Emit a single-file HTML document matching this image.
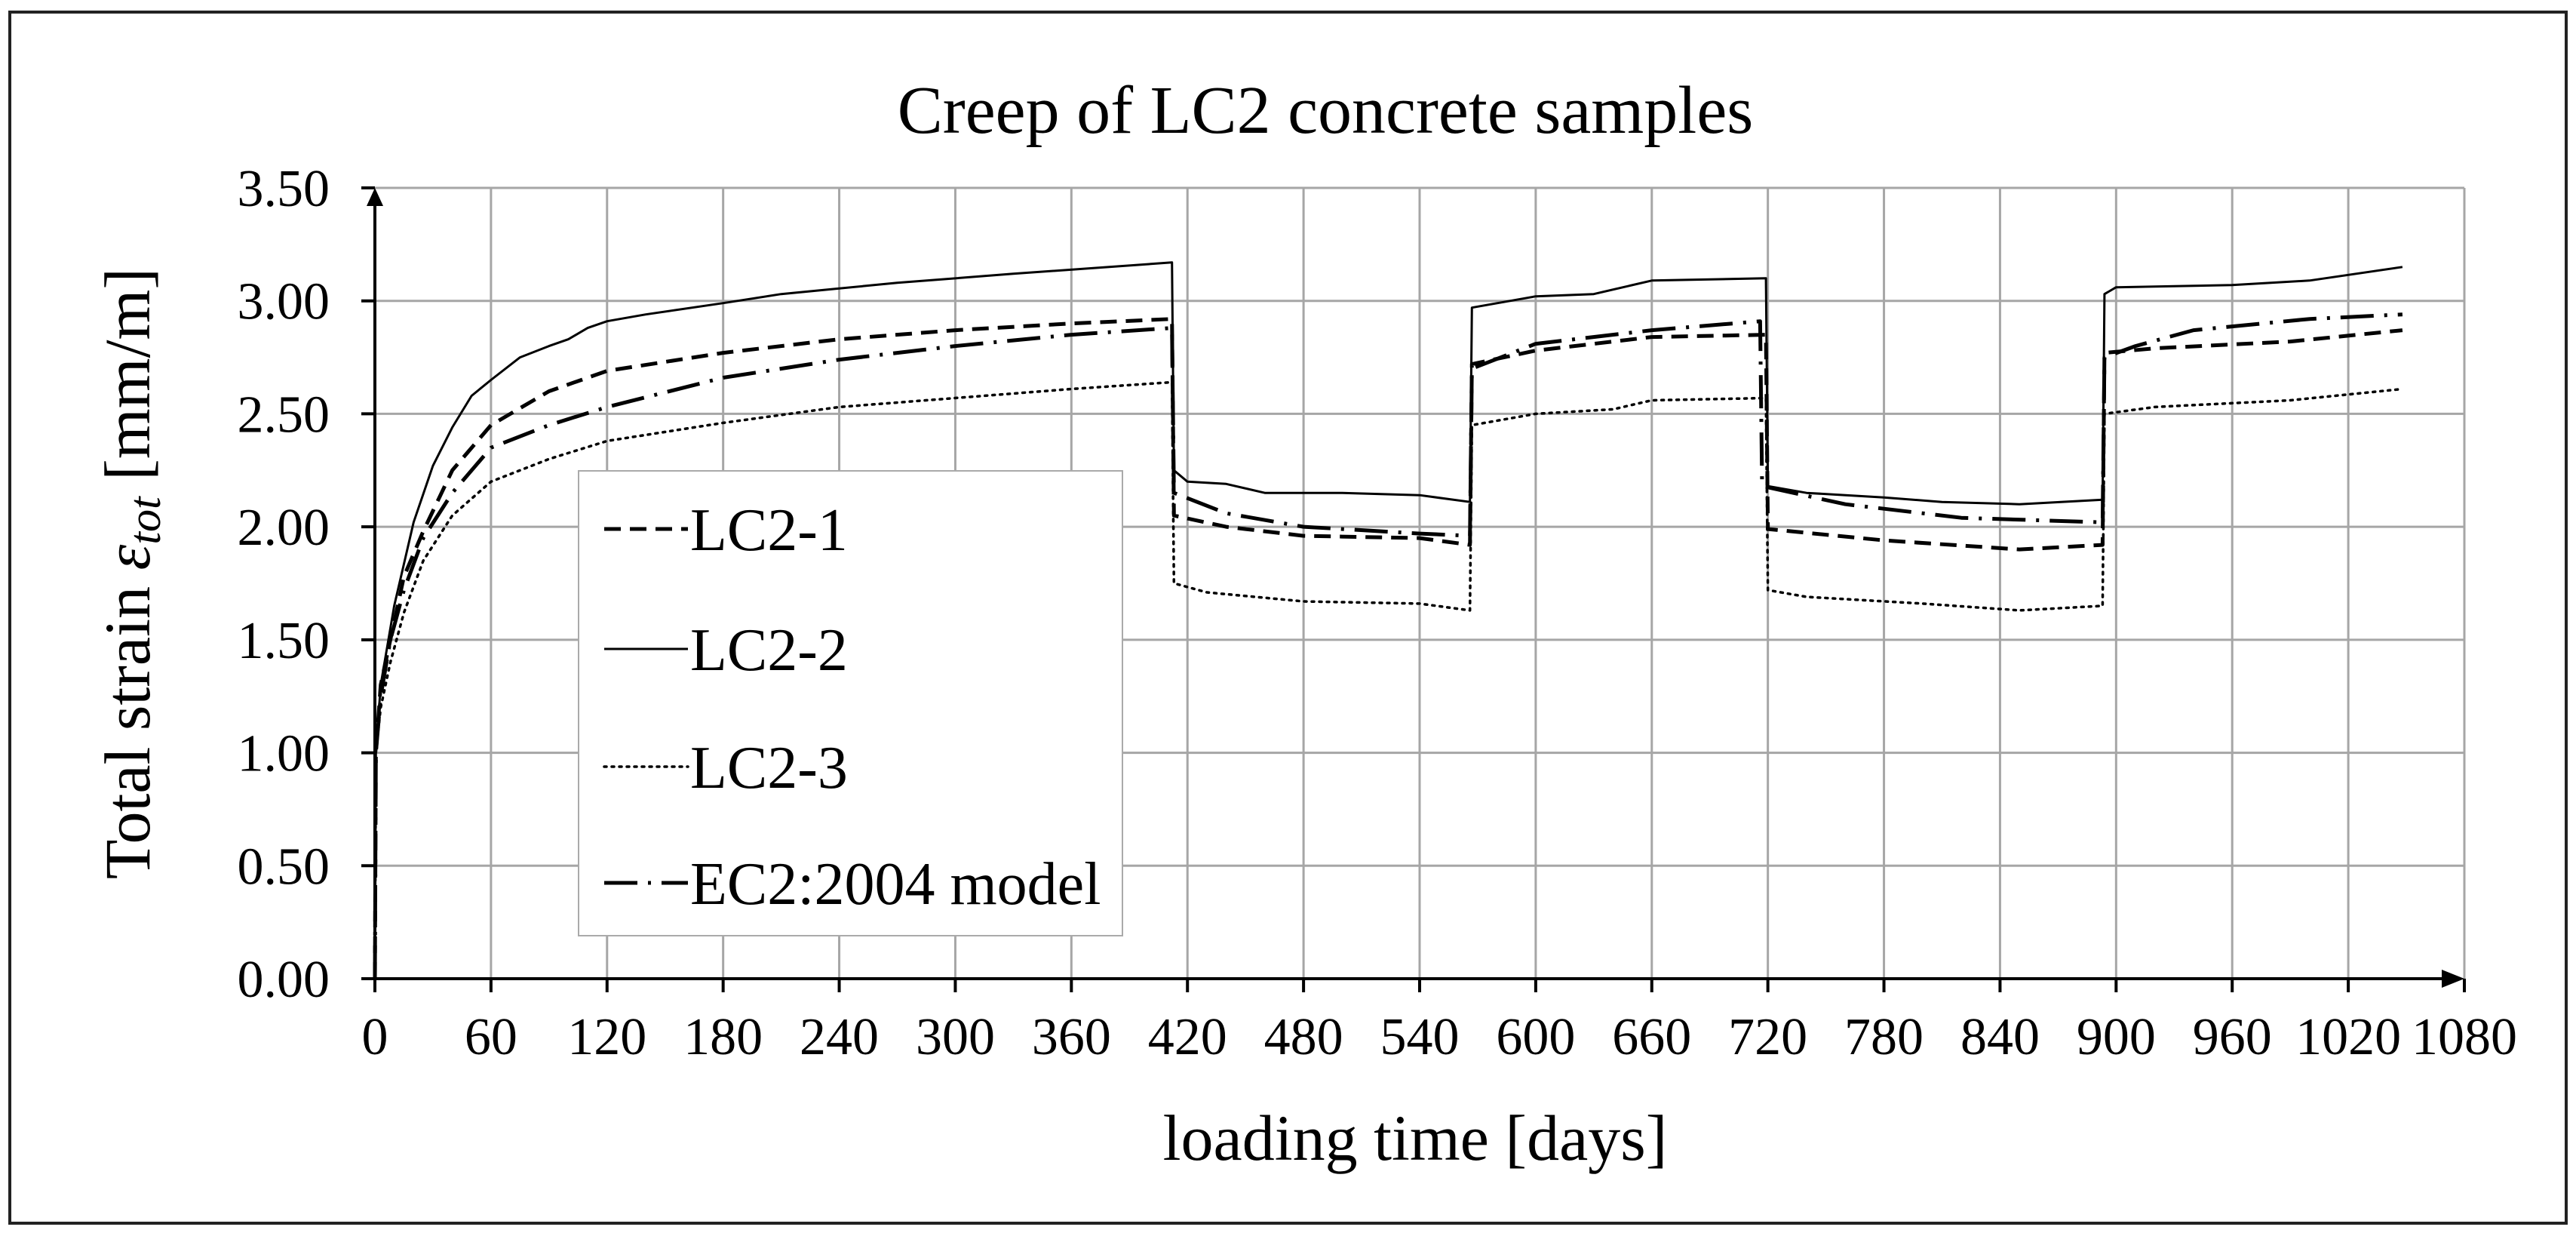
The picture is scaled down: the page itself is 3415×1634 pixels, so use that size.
<!DOCTYPE html>
<html><head><meta charset="utf-8">
<style>
html,body{margin:0;padding:0;background:#fff;}
svg{display:block;}
text{font-family:"Liberation Serif","Times New Roman",serif;fill:#000;}
</style></head>
<body>
<svg id="chart" width="3415" height="1634" viewBox="0 0 3415 1634" xmlns="http://www.w3.org/2000/svg">
<rect x="13" y="16" width="3389" height="1605" fill="#fff" stroke="#222" stroke-width="4"/>
<text x="1757" y="176" font-size="90" text-anchor="middle">Creep of LC2 concrete samples</text>
<g id="grid"></g>
<g id="axes"></g>
<g id="series"></g>
<text x="1876" y="1537" font-size="86" text-anchor="middle">loading time [days]</text>
<text transform="translate(198,760) rotate(-90)" font-size="86" text-anchor="middle">Total strain <tspan font-style="italic">ε</tspan><tspan font-style="italic" font-size="60" dy="14">tot</tspan><tspan dy="-14"> [mm/m]</tspan></text>
<g>
<rect x="767" y="624" width="721" height="616" fill="#fff" stroke="#aaa" stroke-width="2"/>
<g><line x1="801" y1="701" x2="912" y2="701" stroke="#000" stroke-width="5" stroke-dasharray="22,12"/><text x="915" y="729" font-size="80">LC2-1</text></g>
<g><line x1="801" y1="860" x2="912" y2="860" stroke="#000" stroke-width="3"/><text x="915" y="888" font-size="80">LC2-2</text></g>
<g><line x1="801" y1="1016" x2="912" y2="1016" stroke="#000" stroke-width="3.5" stroke-dasharray="3,7" stroke-linecap="round"/><text x="915" y="1044" font-size="80">LC2-3</text></g>
<g><line x1="801" y1="1170" x2="912" y2="1170" stroke="#000" stroke-width="5" stroke-dasharray="44,14,4,14"/><text x="915" y="1198" font-size="80">EC2:2004 model</text></g>
</g>
</svg>
<script>
const xTicks = [0,60,120,180,240,300,360,420,480,540,600,660,720,780,840,900,960,1020,1080];
const yTicks = [0,0.5,1,1.5,2,2.5,3,3.5];
const yTickLabels = ["0.00","0.50","1.00","1.50","2.00","2.50","3.00","3.50"];
const lc21Days = [0,0.5,3,8,15,25,40,60,90,120,180,240,300,360,412,413,440,480,540,566,567,600,660,719,720,780,850,893,894,920,990,1048];
const lc21Vals = [0,1.0,1.3,1.5,1.78,1.98,2.25,2.45,2.6,2.69,2.77,2.83,2.87,2.9,2.92,2.05,2.0,1.96,1.95,1.92,2.72,2.78,2.84,2.85,1.99,1.94,1.9,1.92,2.77,2.79,2.82,2.87];
const lc22Days = [0,0.5,3,10,20,30,40,50,60,75,90,100,110,120,140,180,210,270,330,412,413,420,440,460,500,540,566,567,600,630,660,719,720,740,780,810,850,893,894,900,960,1000,1048];
const lc22Vals = [0,1.0,1.3,1.65,2.02,2.27,2.44,2.58,2.65,2.75,2.8,2.83,2.88,2.91,2.94,2.99,3.03,3.08,3.12,3.17,2.25,2.2,2.19,2.15,2.15,2.14,2.11,2.97,3.02,3.03,3.09,3.1,2.18,2.15,2.13,2.11,2.1,2.12,3.03,3.06,3.07,3.09,3.15];
const lc23Days = [0,0.5,3,8,15,25,40,60,90,120,180,240,300,360,412,413,430,480,540,566,567,600,640,660,719,720,740,800,850,893,894,920,990,1048];
const lc23Vals = [0,1.0,1.2,1.4,1.62,1.85,2.05,2.2,2.3,2.38,2.46,2.53,2.57,2.61,2.64,1.75,1.71,1.67,1.66,1.63,2.45,2.5,2.52,2.56,2.57,1.72,1.69,1.66,1.63,1.65,2.5,2.53,2.56,2.61];
const ec2Days = [0,0.5,3,8,15,25,40,60,90,120,180,240,300,360,412,413,440,480,540,566,567,600,660,716,717,760,820,893,894,910,940,1000,1048];
const ec2Vals = [0,1.0,1.25,1.5,1.72,1.95,2.15,2.35,2.45,2.53,2.66,2.74,2.8,2.85,2.88,2.15,2.06,2.0,1.97,1.96,2.7,2.81,2.87,2.91,2.18,2.1,2.04,2.02,2.75,2.8,2.87,2.92,2.94];

const NS="http://www.w3.org/2000/svg";
const X0=497, X1=3267, Y0=1297, Y1=249;
function xs(d){return X0+(d/1080)*(X1-X0);}
function ys(v){return Y0-(v/3.5)*(Y0-Y1);}
function mk(tag,attrs,parent){const e=document.createElementNS(NS,tag);for(const k in attrs)e.setAttribute(k,attrs[k]);parent.appendChild(e);return e;}
const grid=document.getElementById('grid'), axes=document.getElementById('axes'), series=document.getElementById('series');
xTicks.forEach((t,i)=>{
  if(i>0){const g=mk('line',{x1:xs(t),y1:Y1,x2:xs(t),y2:Y0,stroke:'#a6a6a6','stroke-width':3},grid);
  
  }
  const tk=mk('line',{x1:xs(t),y1:Y0,x2:xs(t),y2:Y0+18,stroke:'#000','stroke-width':4},axes);
  
  
  const tx=mk('text',{x:xs(t),y:1397,'font-size':70,'text-anchor':'middle'},axes);
  tx.textContent=String(t);
  
  
});
yTicks.forEach((t,i)=>{
  if(i>0){const g=mk('line',{x1:X0,y1:ys(t),x2:X1,y2:ys(t),stroke:'#a6a6a6','stroke-width':3},grid);
  
  }
  const tk=mk('line',{x1:X0-18,y1:ys(t),x2:X0,y2:ys(t),stroke:'#000','stroke-width':4},axes);
  
  
  const tx=mk('text',{x:437,y:ys(t)+24,'font-size':70,'text-anchor':'end'},axes);
  tx.textContent=yTickLabels[i];
  
  
});
const xa=mk('line',{x1:X0,y1:Y0,x2:X1-20,y2:Y0,stroke:'#000','stroke-width':4},axes);


const xarr=mk('polygon',{points:`${X1},${Y0} ${X1-30},${Y0-12} ${X1-30},${Y0+12}`,fill:'#000'},axes);


const ya=mk('line',{x1:X0,y1:Y0,x2:X0,y2:Y1+20,stroke:'#000','stroke-width':4},axes);


const yarr=mk('polygon',{points:`${X0},${Y1} ${X0-11},${Y1+24} ${X0+11},${Y1+24}`,fill:'#000'},axes);



function drawSeries(days,vals,name,style){
  const pts=days.map((d,i)=>xs(d).toFixed(1)+','+ys(vals[i]).toFixed(1)).join(' ');
  const a={points:pts,fill:'none',stroke:'#000','stroke-linejoin':'round'};
  Object.assign(a,style);
  const p=mk('polyline',a,series);
  
  
}
drawSeries(lc23Days,lc23Vals,'series-lc2-3',{'stroke-width':3.5,'stroke-dasharray':'3,7','stroke-linecap':'round'});
drawSeries(ec2Days,ec2Vals,'series-ec2-model',{'stroke-width':5,'stroke-dasharray':'44,14,4,14'});
drawSeries(lc21Days,lc21Vals,'series-lc2-1',{'stroke-width':5,'stroke-dasharray':'22,12'});
drawSeries(lc22Days,lc22Vals,'series-lc2-2',{'stroke-width':3});
</script>
</body></html>
